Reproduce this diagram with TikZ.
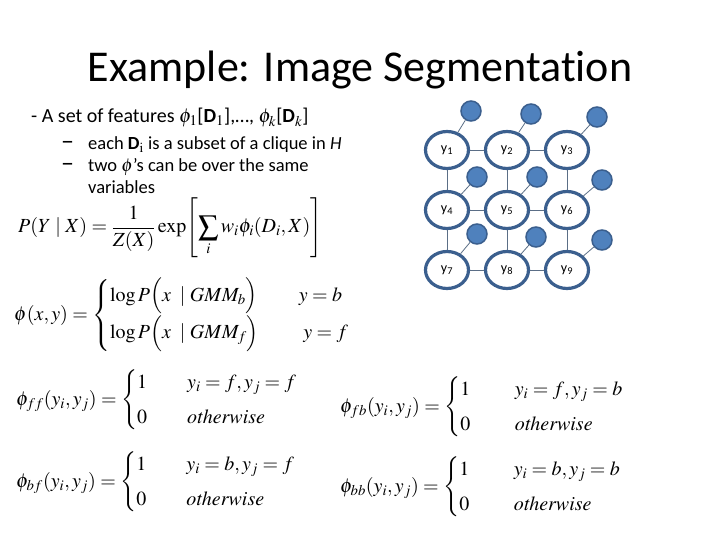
\documentclass[tikz,border=0pt]{standalone}
\usepackage{amsmath}
\usepackage{mathptmx}
\usepackage[no-math]{fontspec}
\setmainfont{Carlito}[Ligatures=NoCommon]
\usetikzlibrary{shapes.geometric}

\definecolor{ringblue}{HTML}{3B5F8E}
\definecolor{obsblue}{HTML}{4F81BD}
\definecolor{edgegray}{HTML}{5B6E86}

\tikzset{
  hidden/.style={ellipse, draw=ringblue, line width=3.2pt, fill=white,
    minimum width=43pt, minimum height=37pt, inner sep=0pt,
    font=\fontsize{14}{16}\selectfont},
  observed/.style={circle, draw=ringblue, line width=1.5pt, fill=obsblue,
    minimum size=20pt, inner sep=0pt},
  link/.style={edgegray, line width=0.8pt},
  bullet/.style={anchor=west, inner sep=0pt, font=\fontsize{18.5}{22}\selectfont},
  eqn/.style={anchor=west, inner sep=0pt, font=\fontsize{20}{24}\selectfont}
}

\begin{document}
\begin{tikzpicture}[x=1pt, y=-1pt]
  \useasboundingbox (0,0) rectangle (720,540);

  \node[font=\fontsize{44}{52}\selectfont] (title) at (360,70) {Example: Image Segmentation};

  % bullets
  \node[bullet, font=\fontsize{20}{24}\selectfont] (b1) at (31,118)
    {- A set of features $\phi_1$[\textbf{D}$_1$],\dots, $\phi_k$[\textbf{D}$_k$]};
  \node[bullet, font=\fontsize{26}{26}\selectfont] (d1) at (61,145) {--};
  \node[bullet] (b2) at (88,145)
    {each \textbf{D}$_\mathrm{i}$ is a subset of a clique in \textit{H}};
  \node[bullet, font=\fontsize{26}{26}\selectfont] (d2) at (61,167) {--};
  \node[bullet] (b3) at (88,167) {two $\phi$'s can be over the same};
  \node[bullet] (b4) at (88,187) {variables};

  % equations
  \node[eqn] (pyx) at (18,228)
    {$\displaystyle P(Y\mid X)=\frac{1}{Z(X)}\exp\Biggl[\sum_i w_i\phi_i(D_i,X)\Biggr]$};
  \node[eqn] (phixy) at (14,315)
    {$\displaystyle \phi(x,y)=\begin{cases}\log P\Bigl(x\;\mid GMM_b\Bigr) & \quad y=b\\[6pt]
      \log P\Bigl(x\;\mid GMM_f\Bigr) & \quad\; y=f\end{cases}$};
  \node[eqn] (phiff) at (16,400)
    {$\displaystyle \phi_{ff}(y_i,y_j)=\begin{cases}1 & \quad y_i=f,y_j=f\\[6pt]
      0 & \quad \mathit{otherwise}\end{cases}$};
  \node[eqn] (phifb) at (340,407)
    {$\displaystyle \phi_{fb}(y_i,y_j)=\begin{cases}1 & \quad\; y_i=f,y_j=b\\[6pt]
      0 & \quad\; \mathit{otherwise}\end{cases}$};
  \node[eqn] (phibf) at (16,482)
    {$\displaystyle \phi_{bf}(y_i,y_j)=\begin{cases}1 & \quad y_i=b,y_j=f\\[6pt]
      0 & \quad \mathit{otherwise}\end{cases}$};
  \node[eqn] (phibb) at (340,487)
    {$\displaystyle \phi_{bb}(y_i,y_j)=\begin{cases}1 & \quad\; y_i=b,y_j=b\\[6pt]
      0 & \quad\; \mathit{otherwise}\end{cases}$};

  % grid of labels
  \foreach \n/\px/\py in {1/447/150, 2/507/150, 3/567/150,
                          4/447/210, 5/507/210, 6/567/210,
                          7/447/270, 8/507/270, 9/567/270}
    \node[hidden] (y\n) at (\px,\py) {y\textsubscript{\n}};

  % observed pixels
  \foreach \n/\px/\py in {1/471/111, 2/531/114, 3/597/117,
                          4/477/177, 5/537/177, 6/602/180,
                          7/477/234, 8/536/237, 9/602/240}
    \node[observed] (x\n) at (\px,\py) {};

  \foreach \n in {1,...,9}
    \draw[link] (y\n) -- (x\n);

  \foreach \a/\b in {1/2, 2/3, 4/5, 5/6, 7/8, 8/9,
                     1/4, 4/7, 2/5, 5/8, 3/6, 6/9}
    \draw[link] (y\a) -- (y\b);
\end{tikzpicture}
\end{document}
